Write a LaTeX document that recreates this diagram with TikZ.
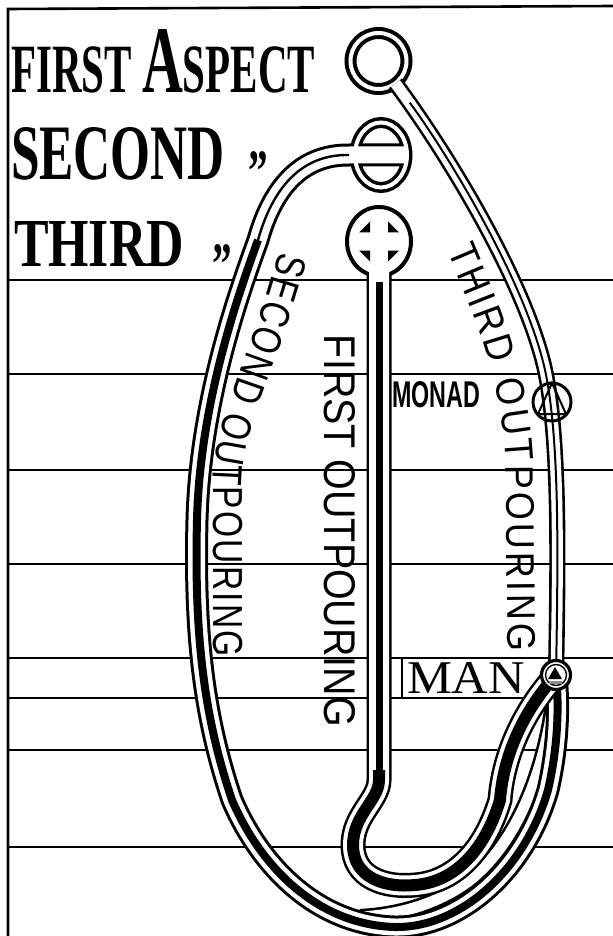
\documentclass[tikz,border=0pt]{standalone}
\usepackage{fontspec}
\setmainfont{Liberation Serif}
\newfontfamily\outpourfont[FakeStretch=0.8]{Liberation Sans}
\newfontfamily\wideoutpourfont[FakeStretch=0.9]{Liberation Sans}
\usetikzlibrary{decorations.text}

\begin{document}
\begin{tikzpicture}[x=0.5pt, y=-0.5pt,
    ruleline/.style={draw=inkColour, line width=1pt},
    frameline/.style={draw=inkColour, line width=1.3pt},
    rayTube/.style={draw=inkColour, line width=1.3pt, double=paperColour, double distance=5.5pt},
    loopTube/.style={draw=inkColour, line width=1.5pt, double=paperColour, double distance=8.5pt},
    stemTube/.style={draw=inkColour, line width=1.25pt, double=paperColour, double distance=10pt},
    coreLine/.style={draw=inkColour, line width=#1},
    textBox/.style={inner sep=0pt, outer sep=0pt}]
    % Define colours
    \definecolor{inkColour}{HTML}{000000}
    \definecolor{paperColour}{HTML}{FFFFFF}
    \definecolor{shadeColour}{HTML}{8C8C8C}

    % Fix the page
    \useasboundingbox (0,0) rectangle (613,936);

    % Centres of the symbols
    \coordinate (aspectone) at (378.5,61);
    \coordinate (aspecttwo) at (381,155);
    \coordinate (aspectthree) at (379,241.5);
    \coordinate (monad) at (552,402);
    \coordinate (man) at (556,675);
    \coordinate (raystart) at (395.4,83.4);

    % Draw frame and rules
    \draw[frameline] (8,936) -- (8,9) -- (613,6);
    \foreach \y in {280,374,470,564,658,698,750,847}
        \draw[ruleline] (8,\y) -- (613,\y);
    \draw[ruleline] (402,658) -- (402,698);

    % Draw first aspect and its ray down to man
    \draw[inkColour, line width=2pt, double=paperColour, double distance=2pt] (aspectone) circle (28);
    \draw[rayTube] (raystart) .. controls (445,150) and (525,280) .. (545,370) .. controls (560,440) and (558,560) .. (man);
    \draw[coreLine=1pt, shorten <=12pt] (raystart) .. controls (445,150) and (525,280) .. (545,370) .. controls (560,440) and (558,560) .. (man);

    % Draw ray below man
    \draw[rayTube] (man) .. controls (550,760) and (520,840) .. (470,880) .. controls (440,903) and (400,915) .. (360,917);

    % Draw second aspect and the second outpouring
    \draw[inkColour, line width=5.5pt] (aspecttwo) ellipse (26 and 32.5);
    \draw[loopTube] (407,155) -- (350,155) .. controls (300,154) and (272,190) .. (258,240)
        .. controls (240,290) and (200,400) .. (197,520) .. controls (194,640) and (205,720) .. (232,800)
        .. controls (262,870) and (320,925) .. (395,927) .. controls (460,928) and (525,870) .. (548,790)
        .. controls (556,755) and (560,715) .. (man);
    \draw[paperColour, line width=2pt] (aspecttwo) ellipse (26 and 32.5);
    \draw[coreLine=1.2pt] (349,155) .. controls (300,154) and (272,190) .. (258,240);
    \draw[coreLine=4pt] (258,240) .. controls (240,290) and (200,400) .. (197,520)
        .. controls (194,640) and (205,720) .. (232,800) .. controls (262,870) and (320,925) .. (395,927)
        .. controls (460,928) and (525,870) .. (548,790) .. controls (556,755) and (560,715) .. (man);

    % Draw third aspect and the first outpouring
    \draw[inkColour, fill=paperColour, line width=2pt] (aspectthree) ellipse (32 and 34.5);
    \foreach \sx/\sy in {-1/-1,1/-1,-1/1,1/1}
        \fill[inkColour, shift={(aspectthree)}] (\sx*9,\sy*9) -- (\sx*20,\sy*9) -- (\sx*9,\sy*20) -- cycle;
    \draw[stemTube] (379,272) -- (379,780) .. controls (379,800) and (353,815) .. (353,845)
        .. controls (353,878) and (385,888) .. (415,885) .. controls (455,882) and (485,850) .. (500,800)
        .. controls (503,760) and (520,715) .. (man);
    \draw[coreLine=3.5pt] (379,282) -- (379,772);
    \draw[coreLine=6pt] (379,770) -- (379,780) .. controls (379,800) and (353,815) .. (353,845)
        .. controls (353,878) and (385,888) .. (415,885) .. controls (455,882) and (485,850) .. (500,800)
        .. controls (503,760) and (520,715) .. (man);

    % Draw monad and man
    \draw[inkColour, line width=1.5pt] (monad) circle (19);
    \draw[inkColour, line width=1pt] (552,383) -- (538,414) -- (566,414) -- cycle;
    \draw[inkColour, fill=paperColour, line width=1.6pt] (man) circle (14.5);
    \draw[inkColour, line width=0.7pt] (man) circle (10.5);
    \fill[inkColour] (555,667) -- (548,679) -- (562,679) -- cycle;
    \fill[shadeColour] (549,681) rectangle (562,684);

    % Write the aspects
    \node[textBox, anchor=south west] (firstaspect) at (11,93) {\resizebox{152pt}{31.5pt}{\bfseries FIRST \scalebox{1.38}{A}SPECT}};
    \node[textBox, anchor=south west] (secondaspect) at (11,180) {\resizebox{107pt}{26pt}{\bfseries SECOND}};
    \node[textBox, anchor=north] (secondditto) at (258,152) {\fontsize{30}{30}\selectfont\bfseries\scalebox{0.65}[1]{”}};
    \node[textBox, anchor=south west] (thirdaspect) at (14,267) {\resizebox{85pt}{22.5pt}{\bfseries THIRD}};
    \node[textBox, anchor=north] (thirdditto) at (222,245) {\fontsize{30}{30}\selectfont\bfseries\scalebox{0.65}[1]{”}};

    % Write the outpourings
    \node[textBox, rotate=-90] (firstoutpouring) at (340,531) {\resizebox{196pt}{15.5pt}{\outpourfont FIRST OUTPOURING}};
    \path[decorate, decoration={text along path, text align={fit to path},
        text={|\outpourfont\fontsize{21}{21}\selectfont|SECOND OUTPOURING}}]
        (279,251) .. controls (262,320) and (230,390) .. (218,440) .. controls (214,460) and (213,470) .. (213,490) -- (213,657);
    \path[decorate, decoration={text along path, text align={fit to path},
        text={|\wideoutpourfont\fontsize{20}{20}\selectfont|THIRD OUTPOURING}}]
        (447,250) .. controls (468,300) and (488,345) .. (496,390) .. controls (503,425) and (506,450) .. (506,480) -- (508,652);

    % Write monad and man
    \node[textBox, anchor=south west] (monadlabel) at (392,408) {\resizebox{44pt}{13pt}{\outpourfont\bfseries MONAD}};
    \node[textBox, anchor=south west] (manlabel) at (407,693) {\resizebox{59pt}{15.5pt}{MAN}};

\end{tikzpicture}
\end{document}
